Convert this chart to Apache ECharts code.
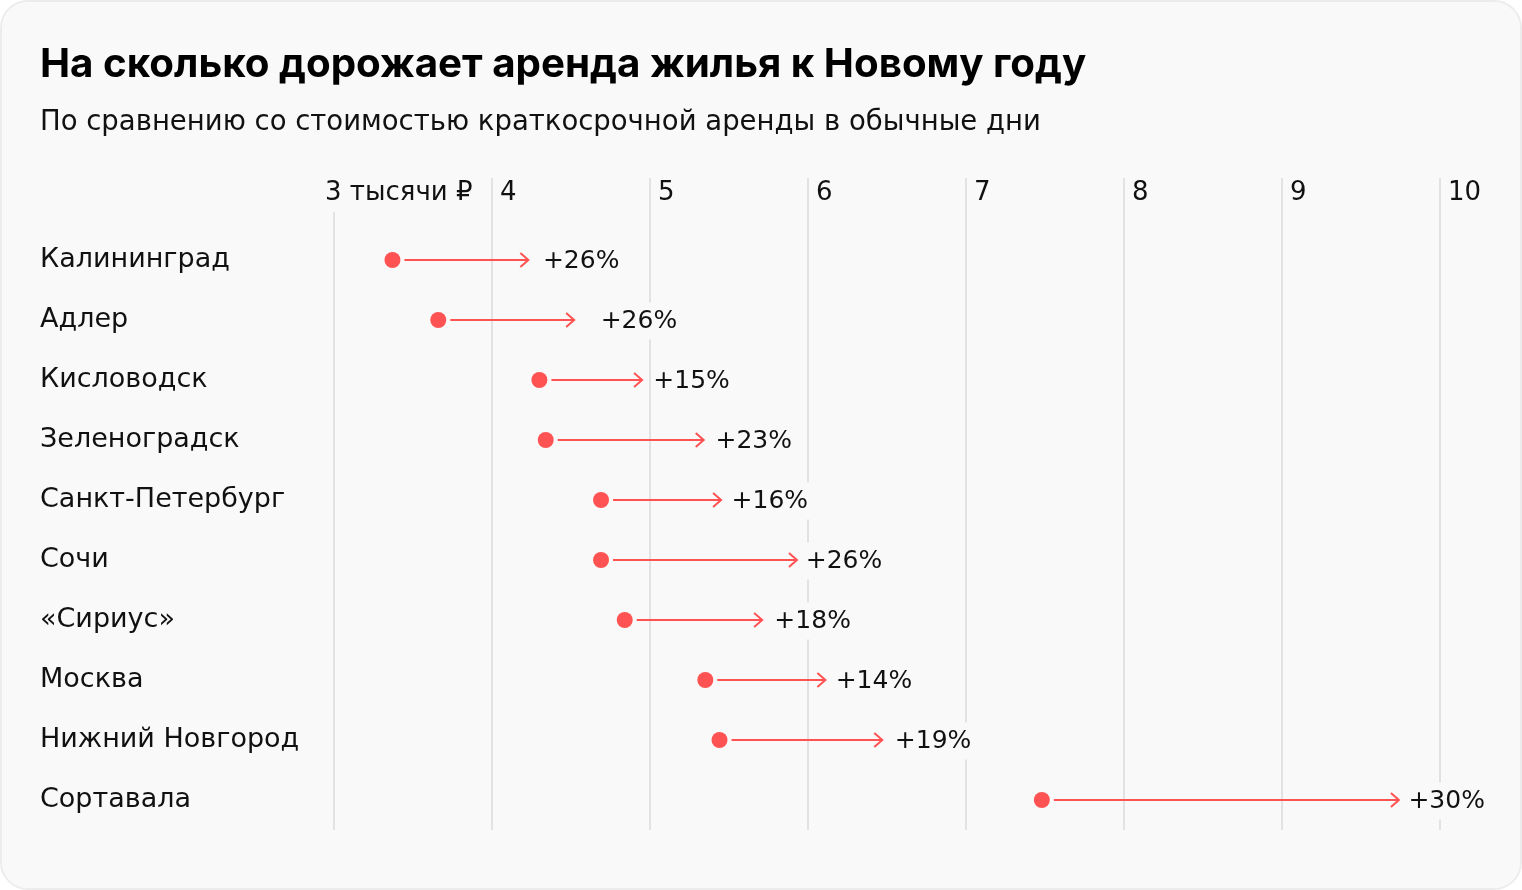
<!DOCTYPE html>
<html>
<head>
<meta charset="utf-8">
<script src="https://cdn.jsdelivr.net/npm/echarts@6/dist/echarts.min.js"></script>
<style>
  html, body { margin: 0; padding: 0; background: #ffffff; }
  #card { position: absolute; left: 0; top: 0; width: 1522px; height: 890px; box-sizing: border-box;
          border: 2px solid #ececec; border-radius: 28px; background: #f9f9f9; overflow: hidden; }
  #chart { width: 1518px; height: 886px; }
</style>
</head>
<body>
<div id="card"><div id="chart"></div></div>
<script>
const titleText = 'На сколько дорожает аренда жилья к Новому году';
const subtitleText = 'По сравнению со стоимостью краткосрочной аренды в обычные дни';
const categories = ['Калининград', 'Адлер', 'Кисловодск', 'Зеленоградск', 'Санкт-Петербург', 'Сочи', '«Сириус»', 'Москва', 'Нижний Новгород', 'Сортавала'];
const usualPrice = [3.37, 3.66, 4.30, 4.34, 4.69, 4.69, 4.84, 5.35, 5.44, 7.48];
const newYearPrice = [4.23, 4.52, 4.95, 5.34, 5.45, 5.93, 5.71, 6.11, 6.47, 9.74];
const growthPct = [26, 26, 15, 23, 16, 26, 18, 14, 19, 30];
const xMin = 3, xMax = 10, xInterval = 1;
const firstTickLabel = '3 тысячи ₽';

const TITLE_FONT = 'Inter, Roboto, sans-serif';
const FONT = '"DejaVu Sans", Inter, sans-serif';
const RED = '#ff5252';
const BG = '#f9f9f9';

const chart = echarts.init(document.getElementById('chart'), null, { renderer: 'canvas' });

const seriesData = categories.map((c, i) => [usualPrice[i], i, newYearPrice[i], growthPct[i]]);

const option = {
  animation: false,
  backgroundColor: BG,
  textStyle: { fontFamily: FONT },
  title: [
    { text: titleText, left: 33, top: 38,
      textStyle: { fontFamily: TITLE_FONT, fontSize: 40.3, fontWeight: 'bold', color: '#000' } },
    { text: subtitleText, left: 33, top: 102,
      textStyle: { fontFamily: FONT, fontSize: 27.5, fontWeight: 'normal', color: '#111' } }
  ],
  grid: [
    { left: 332, right: 80, top: 176, bottom: 58 },
    { left: 332, right: 80, top: 228, bottom: 58 }
  ],
  xAxis: [
    { type: 'value', gridIndex: 0, min: xMin, max: xMax, interval: xInterval, position: 'top',
      axisLine: { show: false }, axisTick: { show: false },
      splitLine: { show: true, lineStyle: { color: '#e2e2e2', width: 2 } },
      axisLabel: { inside: true, align: 'left', verticalAlign: 'top', margin: 2, padding: [0, 0, 0, 8],
        fontFamily: FONT, fontSize: 26, color: '#111',
        formatter: v => (v === xMin ? '' : String(v)) } },
    { type: 'value', gridIndex: 1, min: xMin, max: xMax, interval: xInterval, show: false }
  ],
  yAxis: [
    { type: 'category', gridIndex: 0, show: false, data: [''] },
    { type: 'category', gridIndex: 1, data: categories, inverse: true,
      axisLine: { show: false }, axisTick: { show: false }, splitLine: { show: false },
      axisLabel: { align: 'left', margin: 294, padding: [4, 0, 0, 0], fontFamily: FONT, fontSize: 27, color: '#111' } }
  ],
  series: [{
    type: 'custom',
    xAxisIndex: 1, yAxisIndex: 1,
    data: seriesData,
    encode: { x: [0, 2], y: 1 },
    renderItem: function (params, api) {
      const start = api.value(0), idx = api.value(1), end = api.value(2), pct = api.value(3);
      const p0 = api.coord([start, idx]);
      const p1 = api.coord([end, idx]);
      const pl = api.coord([start * (1 + pct / 100), idx]);
      const y = p0[1];
      return {
        type: 'group',
        children: [
          { type: 'line', shape: { x1: p0[0] + 12, y1: y, x2: p1[0], y2: y },
            style: { stroke: RED, lineWidth: 2 } },
          { type: 'polyline', shape: { points: [[p1[0] - 8, y - 7], [p1[0], y], [p1[0] - 8, y + 7]] },
            style: { stroke: RED, lineWidth: 2, fill: null } },
          { type: 'circle', shape: { cx: p0[0], cy: y, r: 8 }, style: { fill: RED } },
          { type: 'text', style: { text: '+' + pct + '%', x: pl[0] + 10, y: y + 1,
              align: 'left', verticalAlign: 'middle', font: '25px ' + FONT, fill: '#111',
              backgroundColor: BG, padding: [6, 2, 6, 2] } }
        ]
      };
    }
  }]
};
chart.setOption(option);

const x3 = chart.convertToPixel({ xAxisIndex: 0 }, xMin);
chart.setOption({
  graphic: [{
    type: 'text', left: x3 - 9, top: 176,
    style: { text: firstTickLabel, font: '26px ' + FONT, fill: '#111', backgroundColor: BG, padding: [2, 2, 6, 0] }
  }]
});
</script>
</body>
</html>
